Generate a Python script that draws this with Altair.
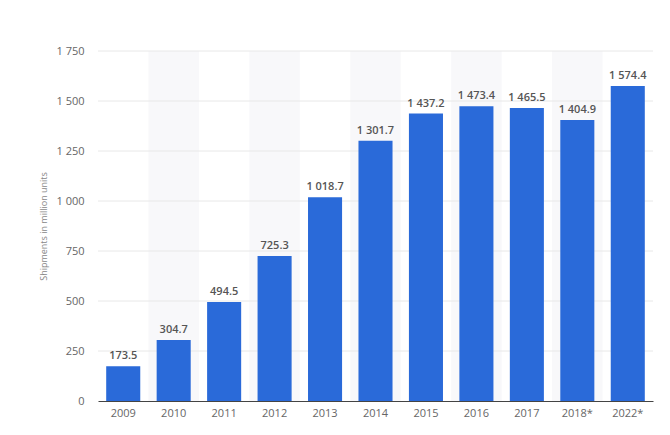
import altair as alt
import pandas as pd

years = ["2009", "2010", "2011", "2012", "2013", "2014", "2015", "2016", "2017", "2018*", "2022*"]
shipments = [173.5, 304.7, 494.5, 725.3, 1018.7, 1301.7, 1437.2, 1473.4, 1465.5, 1404.9, 1574.4]
banded = ["2010", "2012", "2014", "2016", "2018*"]
y_ticks = [0, 250, 500, 750, 1000, 1250, 1500, 1750]
y_max = 1750

df = pd.DataFrame({"year": years, "value": shipments})
bands = pd.DataFrame({"year": banded, "top": [y_max] * len(banded)})
grid = pd.DataFrame({"v": y_ticks[1:]})

FONT = "Open Sans"
x_scale = alt.Scale(domain=years, paddingInner=0, paddingOuter=0)
y_scale = alt.Scale(domain=[0, y_max], nice=False)

x_enc = alt.X("year:N", scale=x_scale, sort=years,
              axis=alt.Axis(title=None, labelAngle=0, ticks=False, labelPadding=6,
                            labelFont=FONT, labelFontSize=11, labelColor="#666666",
                            domainColor="#444444", domainWidth=1, grid=False))

band_layer = alt.Chart(bands).mark_bar(color="#f8f8fa").encode(
    x=x_enc,
    y=alt.Y("top:Q", scale=y_scale),
)

grid_layer = alt.Chart(grid).mark_rule(color="#e8e8e8", strokeWidth=1).encode(
    y=alt.Y("v:Q", scale=y_scale),
)

bar_layer = alt.Chart(df).mark_bar(color="#2a6ad9", width=alt.RelativeBandSize(0.675)).encode(
    x=x_enc,
    y=alt.Y("value:Q", scale=y_scale,
            axis=alt.Axis(title="Shipments in million units", values=y_ticks,
                          labelExpr="replace(format(datum.value, ','), ',', ' ')",
                          ticks=False, tickSize=0, labelPadding=14, domain=False, grid=False,
                          labelFont=FONT, labelFontSize=11, labelColor="#666666",
                          titleFont=FONT, titleFontSize=9, titleFontWeight="normal",
                          titleColor="#888888", titleX=-50, titleY=175, titleAngle=-90)),
)

text_layer = alt.Chart(df).transform_calculate(
    label="replace(format(datum.value, ',.1f'), ',', ' ')"
).mark_text(baseline="bottom", dy=-5, font=FONT, fontSize=11, fontWeight=600, color="#555555").encode(
    x=alt.X("year:N", scale=x_scale, sort=years),
    y=alt.Y("value:Q", scale=y_scale),
    text="label:N",
)

chart = alt.layer(band_layer, grid_layer, bar_layer, text_layer).properties(
    width=555, height=350,
    autosize=alt.AutoSizeParams(type="none"),
    padding={"left": 98, "top": 51, "right": 17, "bottom": 34},
    background="#ffffff",
).configure_view(stroke=None)

chart.save("out.html", embed_options={"renderer": "svg", "actions": False})
